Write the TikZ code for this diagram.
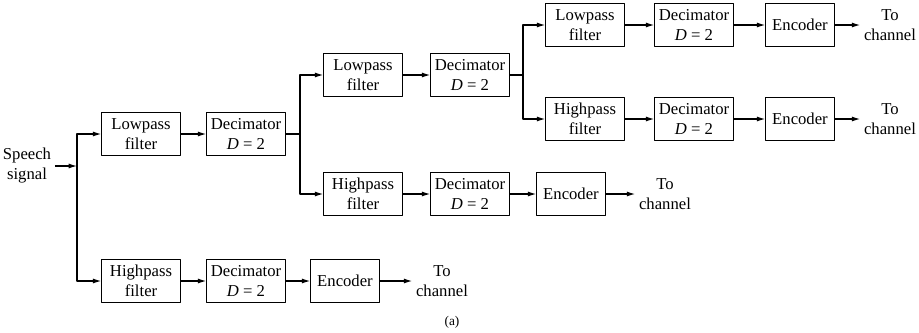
\documentclass[tikz,border=0pt]{standalone}
\usepackage{fontspec}
\setmainfont{Liberation Serif}
\usetikzlibrary{arrows.meta}
\begin{document}
\begin{tikzpicture}[x=0.6pt,y=-0.6pt,>={Latex[length=5pt,width=3pt]},line width=0.7pt,line join=round,
	blk/.style={draw,minimum width=47pt,minimum height=26pt,align=center,inner sep=1pt},
	enc/.style={blk,minimum width=41pt},
	lbl/.style={align=center,inner sep=2pt}]
	\useasboundingbox (0,0) rectangle (919,332);
	% input
	\node[lbl] (sp) at (27,166) {Speech\\signal};
	\coordinate (s1) at (77,166);
	\coordinate (s2) at (300,134);
	\coordinate (s3) at (523,75);
	% first stage
	\node[blk] (lp1) at (141,134) {Lowpass\\filter};
	\node[blk] (dc1) at (246,134) {Decimator\\\textit{D} = 2};
	\node[blk] (hp1) at (141,281) {Highpass\\filter};
	\node[blk] (dh1) at (246,281) {Decimator\\\textit{D} = 2};
	\node[enc] (eh1) at (345,281) {Encoder};
	\node[lbl] (ch1) at (442,281) {To\\channel};
	% second stage
	\node[blk] (lp2) at (363,75) {Lowpass\\filter};
	\node[blk] (dc2) at (470,75) {Decimator\\\textit{D} = 2};
	\node[blk] (hp2) at (363,194) {Highpass\\filter};
	\node[blk] (dh2) at (470,194) {Decimator\\\textit{D} = 2};
	\node[enc] (eh2) at (571,194) {Encoder};
	\node[lbl] (ch2) at (665,194) {To\\channel};
	% third stage
	\node[blk] (lp3) at (585,25) {Lowpass\\filter};
	\node[blk] (dc3) at (694,25) {Decimator\\\textit{D} = 2};
	\node[enc] (el3) at (800,25) {Encoder};
	\node[lbl] (cl3) at (890,25) {To\\channel};
	\node[blk] (hp3) at (585,119) {Highpass\\filter};
	\node[blk] (dh3) at (694,119) {Decimator\\\textit{D} = 2};
	\node[enc] (eh3) at (800,119) {Encoder};
	\node[lbl] (ch3) at (890,119) {To\\channel};
	\node[font=\footnotesize] (cap) at (452,322) {(a)};
	% connections
	\draw[->] (sp) -- (s1);
	\draw (dc1) -- (s2);
	\draw (dc2) -- (s3);
	\foreach \s/\t in {s1/lp1,s1/hp1,s2/lp2,s2/hp2,s3/lp3,s3/hp3}
		\draw[->] (\s) |- (\t);
	\foreach \a/\b in {lp1/dc1,hp1/dh1,dh1/eh1,eh1/ch1,lp2/dc2,hp2/dh2,dh2/eh2,eh2/ch2,lp3/dc3,dc3/el3,el3/cl3,hp3/dh3,dh3/eh3,eh3/ch3}
		\draw[->] (\a) -- (\b);
\end{tikzpicture}
\end{document}
